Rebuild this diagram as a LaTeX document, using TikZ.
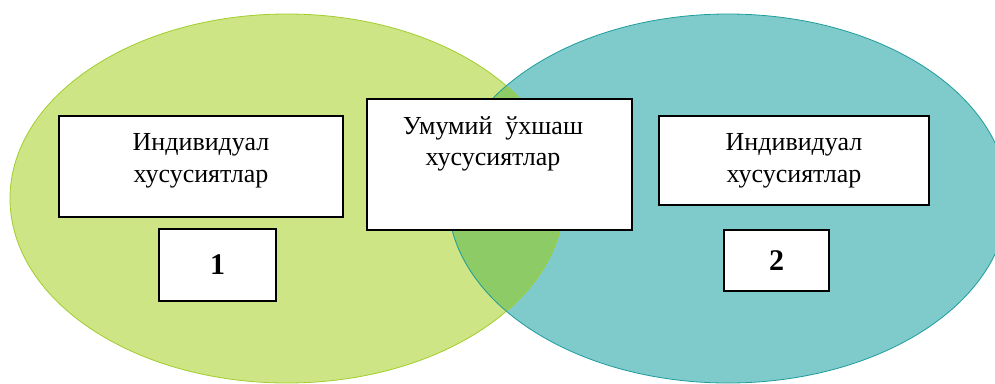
\documentclass[tikz,border=0pt]{standalone}
\usepackage{fontspec}
\setmainfont{Liberation Serif}
\definecolor{lgreen}{HTML}{CDE584}
\definecolor{lgreenline}{HTML}{A2CD2C}
\definecolor{tealfill}{HTML}{7FCACB}
\definecolor{tealline}{HTML}{1F9C9C}
\definecolor{overlapfill}{HTML}{8CCB66}
\tikzset{
  box/.style={draw=black, line width=1.2pt, fill=white, rectangle, inner sep=0pt},
  txt/.style={align=center, inner sep=0pt, font=\fontsize{26}{31.5}\selectfont},
  num/.style={inner sep=0pt, font=\fontsize{30}{34}\selectfont\bfseries}
}
\begin{document}
\begin{tikzpicture}[x=1pt,y=-1pt]
\useasboundingbox (0,0) rectangle (995,383);
\begin{scope}
\clip (0,0) rectangle (995,383);
% ellipses
\fill[lgreen] (287,198.5) ellipse [x radius=277pt, y radius=184.5pt];
\fill[tealfill] (728,198.5) ellipse [x radius=280pt, y radius=184.5pt];
\begin{scope}
  \clip (287,198.5) ellipse [x radius=277pt, y radius=184.5pt];
  \fill[overlapfill] (728,198.5) ellipse [x radius=280pt, y radius=184.5pt];
\end{scope}
\draw[lgreenline, line width=0.8pt] (287,198.5) ellipse [x radius=277pt, y radius=184.5pt];
\draw[tealline, line width=0.8pt] (728,198.5) ellipse [x radius=280pt, y radius=184.5pt];
\end{scope}
% boxes
\node[box, minimum width=284pt, minimum height=101pt] (boxA) at (201,166.5) {};
\node[box, minimum width=117pt, minimum height=72pt] (box1) at (217.5,265) {};
\node[box, minimum width=265pt, minimum height=131pt] (boxC) at (499.5,164.5) {};
\node[box, minimum width=270pt, minimum height=89pt] (boxB) at (794,160.5) {};
\node[box, minimum width=105pt, minimum height=61pt] (box2) at (776.5,260.5) {};
% texts
\node[txt] (tA) at (201,161) {Индивидуал\\хусусиятлар};
\node[txt] (tC) at (493,144) {Умумий\hspace{0.5em}ўхшаш\\хусусиятлар};
\node[txt] (tB) at (794,161) {Индивидуал\\хусусиятлар};
\node[num] (n1) at (box1.center) {1};
\node[num] (n2) at (box2.center) {2};
\end{tikzpicture}
\end{document}
